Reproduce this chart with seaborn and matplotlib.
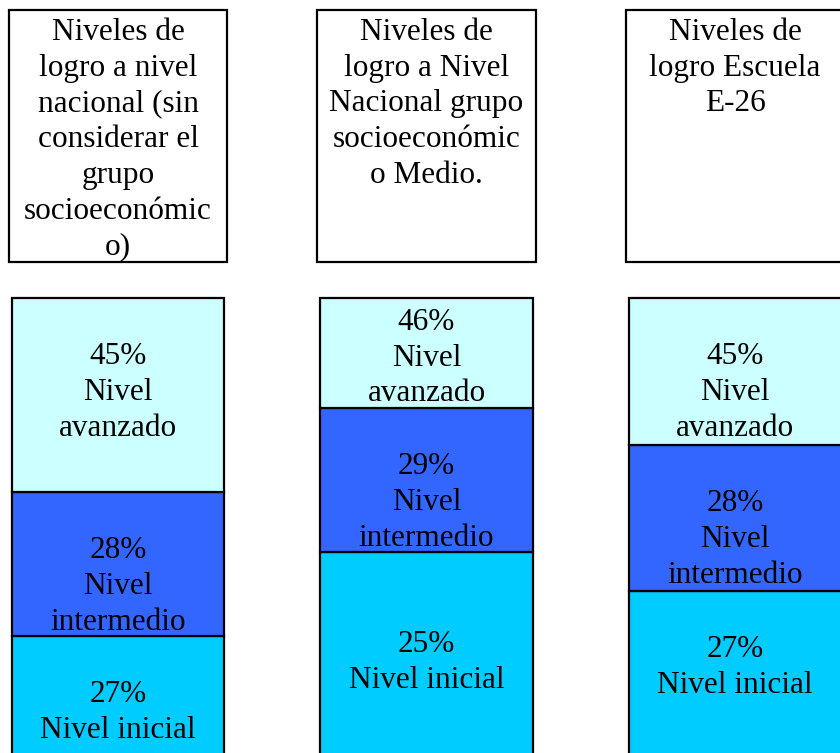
#=====IMPORT LIBRARIES=====
import matplotlib
matplotlib.use('Agg')
import matplotlib.pyplot as plt
from matplotlib.patches import Rectangle
import pandas as pd
import seaborn as sns

#=====DATA=====
grupos = ["Nacional", "Nacional Medio", "Escuela E-26"]
titulos = [
    "Niveles de\nlogro a nivel\nnacional (sin\nconsiderar el\ngrupo\nsocioeconómic\no)",
    "Niveles de\nlogro a Nivel\nNacional grupo\nsocioeconómic\no Medio.",
    "Niveles de\nlogro Escuela\nE-26",
]
niveles = ["Nivel inicial", "Nivel\nintermedio", "Nivel\navanzado"]
pct_inicial = [27, 25, 27]
pct_intermedio = [28, 29, 28]
pct_avanzado = [45, 46, 45]
# drawn heights of each block as they appear in the picture (not proportional to %)
alto_inicial = [144, 228, 189]
alto_intermedio = [144, 144, 146]
alto_avanzado = [194, 110, 147]

#=====STYLE=====
sns.set_theme(style="white")
plt.rcParams['font.family'] = ['Liberation Serif', 'DejaVu Serif']
colores = ["#00CCFF", "#3366FF", "#CCFFFF"]
FS = 22.5
LS = 1.31

fig = plt.figure(figsize=(8.4, 7.53), dpi=100)
ax = fig.add_axes([0, 0, 1, 1])

#=====STACKED BARS=====
capas = [
    (alto_inicial, pct_inicial, niveles[0], colores[0]),
    (alto_intermedio, pct_intermedio, niveles[1], colores[1]),
    (alto_avanzado, pct_avanzado, niveles[2], colores[2]),
]
# text pad (points) below the top of each block
pad = {(1, 2): 7, (1, 0): 56}
base = [0, 0, 0]
for k, (alto, pct, nombre, c) in enumerate(capas):
    df = pd.DataFrame({"grupo": grupos, "alto": alto})
    sns.barplot(data=df, x="grupo", y="alto", color=c, width=0.69,
                bottom=base, edgecolor="black", linewidth=1.6, ax=ax,
                saturation=1)
    for i in range(len(grupos)):
        top = base[i] + alto[i]
        ax.annotate(f"{pct[i]}%\n{nombre}", xy=(i, top),
                    xytext=(0, -pad.get((i, k), 31.8)), textcoords="offset points",
                    ha="center", va="top", multialignment="center",
                    fontsize=FS, linespacing=LS, color="black")
    base = [b + a for b, a in zip(base, alto)]

#=====HEADER BOXES=====
tope = max(base)
for i, t in enumerate(titulos):
    ax.add_patch(Rectangle((i - 0.354, tope + 36), 0.708, 252,
                           facecolor="white", edgecolor="black", linewidth=1.6))
    ax.annotate(t, xy=(i, tope + 288), xytext=(0, -5.6), textcoords="offset points",
                ha="center", va="top", multialignment="center",
                fontsize=FS, linespacing=LS, color="black")

ax.set_xlim(-0.3825, 2.340)
ax.set_ylim(27, tope + 298)
ax.axis("off")
fig.savefig("out.png", dpi=100, facecolor="white")
